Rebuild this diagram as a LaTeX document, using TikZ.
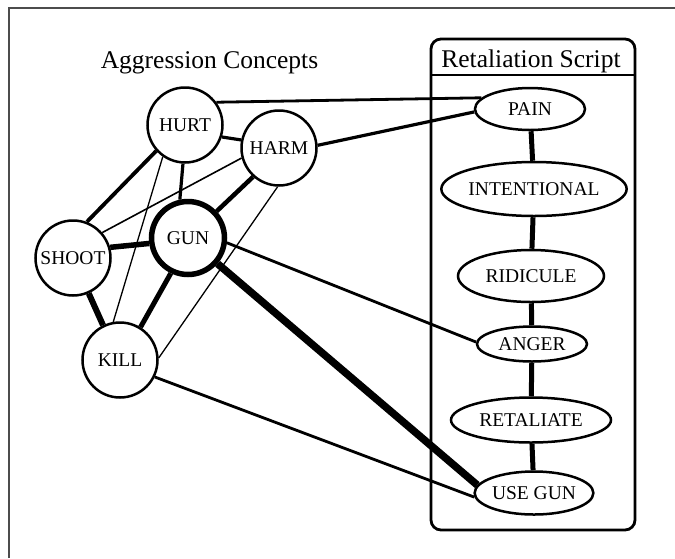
\documentclass[tikz,border=0pt]{standalone}
\usepackage{fontspec}
\setmainfont{Liberation Serif}
\usetikzlibrary{shapes.geometric}
\begin{document}
\begin{tikzpicture}[x=1pt,y=-1pt,
  concept/.style={circle,draw,line width=2.5pt,inner sep=0pt,minimum size=75pt,font=\fontsize{19.5}{19.5}\selectfont},
  scriptnode/.style={ellipse,draw,line width=2.5pt,inner sep=0pt,font=\fontsize{19.5}{19.5}\selectfont},
  heading/.style={anchor=base,inner sep=0pt,font=\fontsize{25.5}{25.5}\selectfont},
  link/.style={line width=#1},
  frameline/.style={black!70,line width=2pt}]
\useasboundingbox (0,0) rectangle (675,558);
% outer frame (top and left)
\coordinate (fbl) at (9,558);
\coordinate (ftl) at (9,8);
\coordinate (ftr) at (675,8);
\draw[frameline] (fbl) -- (ftl) -- (ftr);
% script box
\node[draw,line width=2.8pt,rounded corners=10pt,minimum width=204pt,minimum height=491pt,inner sep=0pt] (scriptbox) at (533,284.5) {};
\coordinate (hl) at (431,75);
\coordinate (hr) at (635,75);
\draw[line width=1.5pt] (hl) -- (hr);
% headings
\node[heading] (t1) at (209.5,68) {Aggression Concepts};
\node[heading] (t2) at (531,67) {Retaliation Script};
% concepts
\node[concept] (hurt) at (185,125) {HURT};
\node[concept] (harm) at (279,148) {HARM};
\node[concept,line width=5.5pt,minimum size=73pt] (gun) at (188,238) {GUN};
\node[concept] (shoot) at (73,258) {SHOOT};
\node[concept] (kill) at (120,360) {KILL};
% script
\node[scriptnode,minimum width=110pt,minimum height=42pt] (pain) at (530,109) {PAIN};
\node[scriptnode,minimum width=182pt,minimum height=54pt] (intent) at (534,189) {INTENTIONAL};
\node[scriptnode,minimum width=146pt,minimum height=52pt] (ridicule) at (531,276) {RIDICULE};
\node[scriptnode,minimum width=110pt,minimum height=35pt] (anger) at (532,344) {ANGER};
\node[scriptnode,minimum width=160pt,minimum height=45pt] (retal) at (531,420) {RETALIATE};
\node[scriptnode,minimum width=114pt,minimum height=43pt] (usegun) at (534,493) {USE GUN};
% script chain
\draw[link=5pt] (pain) -- (intent);
\draw[link=5pt] (intent) -- (ridicule);
\draw[link=5pt] (ridicule) -- (anger);
\draw[link=5pt] (anger) -- (retal);
\draw[link=5pt] (retal) -- (usegun);
% concept links
\draw[link=2.8pt] (hurt.36) -- (pain.167);
\draw[link=3.2pt] (harm.4) -- (pain.183);
\draw[link=3.2pt] (hurt.342) -- (harm.168);
\draw[link=3.8pt] (hurt.222) -- (shoot.69);
\draw[link=1.3pt] (hurt.235) -- (kill.100);
\draw[link=3.2pt] (hurt.267) -- (gun.102);
\draw[link=1.6pt] (harm.195) -- (shoot.41);
\draw[link=4.5pt] (harm.228) -- (gun.43);
\draw[link=1.3pt] (harm.268) -- (kill.3);
\draw[link=5.5pt] (shoot.16) -- (gun.188);
\draw[link=6pt] (shoot.294) -- (kill.116);
\draw[link=5pt] (gun.244) -- (kill.58);
\draw[link=2.8pt] (gun.353) -- (anger.178);
\draw[link=7.5pt] (gun.319) -- (usegun.172);
\draw[link=2.8pt] (kill.334) -- (usegun.184);
\end{tikzpicture}
\end{document}
